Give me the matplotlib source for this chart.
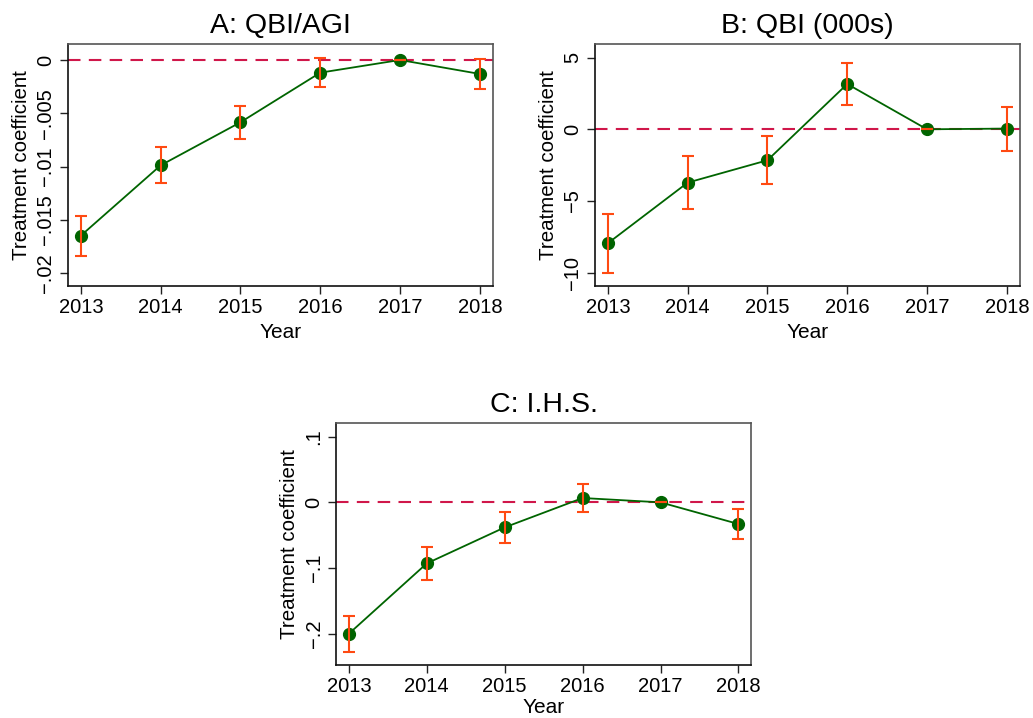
import matplotlib
matplotlib.use("Agg")
import matplotlib.pyplot as plt

plt.rcParams['font.family'] = ['Liberation Sans', 'DejaVu Sans']

years = [2013, 2014, 2015, 2016, 2017, 2018]

# Panel A: QBI/AGI
coef_a = [-0.01647, -0.00988, -0.00584, -0.00119, 0.0, -0.00131]
lo_a = [-0.01834, -0.01156, -0.00738, -0.00253, 0.0, -0.00275]
hi_a = [-0.01462, -0.00816, -0.00431, 0.00019, 0.0, 0.000125]
ticks_a = [0, -0.005, -0.01, -0.015, -0.02]
ticklabels_a = ['0', '\u2212.005', '\u2212.01', '\u2212.015', '\u2212.02']

# Panel B: QBI (000s)
coef_b = [-7.95, -3.72, -2.16, 3.16, 0.0, 0.05]
lo_b = [-10.0, -5.58, -3.81, 1.72, 0.0, -1.51]
hi_b = [-5.88, -1.84, -0.47, 4.65, 0.0, 1.58]
ticks_b = [5, 0, -5, -10]
ticklabels_b = ['5', '0', '\u22125', '\u221210']

# Panel C: I.H.S.
coef_c = [-0.1995, -0.0927, -0.038, 0.0066, 0.0, -0.0329]
lo_c = [-0.227, -0.118, -0.0613, -0.0152, 0.0, -0.0552]
hi_c = [-0.173, -0.0678, -0.0152, 0.0278, 0.0, -0.0106]
ticks_c = [0.1, 0, -0.1, -0.2]
ticklabels_c = ['.1', '0', '\u2212.1', '\u2212.2']

GREEN = '#006400'
ORANGE = '#FF4A12'
CRIMSON = '#D0174A'

fig = plt.figure(figsize=(10.33, 7.18), dpi=100)


def panel(rect, title, coef, lo, hi, ticks, ticklabels, ylim, xpad=4):
    ax = fig.add_axes(rect)
    ax.axhline(0, color=CRIMSON, lw=1.5, ls=(0, (6, 4)), zorder=1)
    ax.plot(years, coef, color=GREEN, lw=1.3, marker='o', ms=8.5,
            mfc=GREEN, mec=GREEN, zorder=2)
    yerr = [[c - l for c, l in zip(coef, lo)], [h - c for c, h in zip(coef, hi)]]
    ax.errorbar(years, coef, yerr=yerr, fmt='none', ecolor=ORANGE,
                elinewidth=1.5, capsize=4, capthick=1.5, zorder=3)
    ax.set_xlim(2012.835, 2018.165)
    ax.set_ylim(*ylim)
    ax.set_xticks(years)
    ax.set_xticklabels([str(y) for y in years])
    ax.set_yticks(ticks)
    ax.set_yticklabels(ticklabels, rotation=90, va='center')
    ax.tick_params(axis='both', direction='out', length=6, width=1,
                   labelsize=14.5, pad=3, color='#222222')
    ax.set_xlabel('Year', fontsize=15, labelpad=xpad)
    ax.set_ylabel('Treatment coefficient', fontsize=14.8, labelpad=4)
    ax.set_title(title, fontsize=20.5, pad=8)
    for side in ['left', 'bottom']:
        ax.spines[side].set_color('#111111')
        ax.spines[side].set_linewidth(1.2)
    for side in ['top', 'right']:
        ax.spines[side].set_color('#555555')
        ax.spines[side].set_linewidth(1.2)
    return ax


panel([0.0655, 0.6021, 0.4118, 0.3362], 'A: QBI/AGI', coef_a, lo_a, hi_a,
      ticks_a, ticklabels_a, (-0.02116, 0.00147))
panel([0.5757, 0.6021, 0.4117, 0.3362], 'B: QBI (000s)', coef_b, lo_b, hi_b,
      ticks_b, ticklabels_b, (-10.91, 5.93))
panel([0.3253, 0.0742, 0.4020, 0.3371], 'C: I.H.S.', coef_c, lo_c, hi_c,
      ticks_c, ticklabels_c, (-0.2466, 0.121), xpad=1.5)

fig.savefig('out.png', dpi=100)
